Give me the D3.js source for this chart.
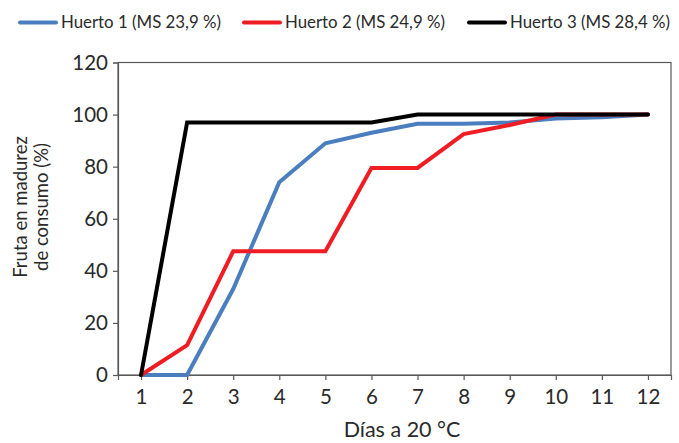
<!DOCTYPE html>
<html>
<head>
<meta charset="utf-8">
<script src="https://cdn.jsdelivr.net/npm/d3@7"></script>
<style>
  body { margin: 0; background: #fff; }
  svg { display: block; font-family: Lato, "Open Sans", sans-serif; }
</style>
</head>
<body>
<svg id="chart" width="679" height="443"></svg>
<script>
const days = [1, 2, 3, 4, 5, 6, 7, 8, 9, 10, 11, 12];
const huerto1 = [0, 0, 33, 74, 89, 93, 96.5, 96.5, 97, 98.5, 99, 100];
const huerto2 = [0, 11.5, 47.5, 47.5, 47.5, 79.5, 79.5, 92.5, 96, 100, 100, 100];
const huerto3 = [0, 97, 97, 97, 97, 97, 100, 100, 100, 100, 100, 100];
const seriesNames = ["Huerto 1 (MS 23,9 %)", "Huerto 2 (MS 24,9 %)", "Huerto 3 (MS 28,4 %)"];
const seriesColors = ["#4a7ebf", "#ee1d23", "#000000"];
const yTicks = [0, 20, 40, 60, 80, 100, 120];
const xTitle = "Días a 20 °C";
const yTitle = ["Fruta en madurez", "de consumo (%)"];

const svg = d3.select("#chart");
const pLeft = 118, pRight = 671, pTop = 62.5, pBottom = 375;
const axisColor = "#595959";
const textColor = "#2a2a2a";

const x = d3.scalePoint().domain(days).range([pLeft, pRight]).padding(0.5);
const y = d3.scaleLinear().domain([0, 120]).range([pBottom, pTop]);

// box
svg.append("rect").attr("x", pLeft).attr("y", pTop)
  .attr("width", pRight - pLeft).attr("height", pBottom - pTop)
  .attr("fill", "none").attr("stroke", axisColor).attr("stroke-width", 1.2);

// y axis
const yAxis = svg.append("g").attr("transform", `translate(${pLeft},0)`)
  .call(d3.axisLeft(y).tickValues(yTicks).tickSize(5).tickPadding(5));
yAxis.select(".domain").attr("stroke", axisColor).attr("stroke-width", 1.2);
yAxis.selectAll(".tick line").attr("stroke", axisColor).attr("stroke-width", 1.2);
yAxis.selectAll(".tick text").attr("fill", textColor).style("font-size", "20.5px").style("font-family", "Lato, sans-serif");

// x axis
const xAxis = svg.append("g").attr("transform", `translate(0,${pBottom})`)
  .call(d3.axisBottom(x).tickSize(5).tickPadding(9));
xAxis.select(".domain").attr("stroke", axisColor).attr("stroke-width", 1.2);
xAxis.selectAll(".tick line").attr("stroke", axisColor).attr("stroke-width", 1.2);
xAxis.selectAll(".tick text").attr("fill", textColor).style("font-size", "20.5px").style("font-family", "Lato, sans-serif");

// titles
svg.append("text").attr("x", 402).attr("y", 437).attr("text-anchor", "middle")
  .attr("fill", textColor).style("font-size", "21.5px").text(xTitle);
yTitle.forEach((t, i) => {
  svg.append("text")
    .attr("transform", `translate(${[27, 48][i]},207) rotate(-90)`)
    .attr("text-anchor", "middle").attr("fill", textColor).style("font-size", "18.5px").text(t);
});

// lines
const allSeries = [huerto1, huerto2, huerto3];
const line = d3.line().x((d, i) => x(days[i])).y(d => y(d));
allSeries.forEach((s, k) => {
  svg.append("path").datum(s).attr("d", line)
    .attr("fill", "none").attr("stroke", seriesColors[k]).attr("stroke-width", 4)
    .attr("stroke-linejoin", "miter").attr("stroke-linecap", "round");
});

// legend
const legendX = [20, 244, 469];
seriesNames.forEach((n, k) => {
  const g = svg.append("g").attr("transform", `translate(${legendX[k]},0)`);
  g.append("line").attr("x1", 0).attr("x2", 36).attr("y1", 22.5).attr("y2", 22.5)
    .attr("stroke", seriesColors[k]).attr("stroke-width", 4).attr("stroke-linecap", "round");
  g.append("text").attr("x", 41).attr("y", 28).attr("fill", textColor)
    .attr("textLength", 160).attr("lengthAdjust", "spacingAndGlyphs")
    .style("font-size", "17.5px").text(n);
});
</script>
</body>
</html>
